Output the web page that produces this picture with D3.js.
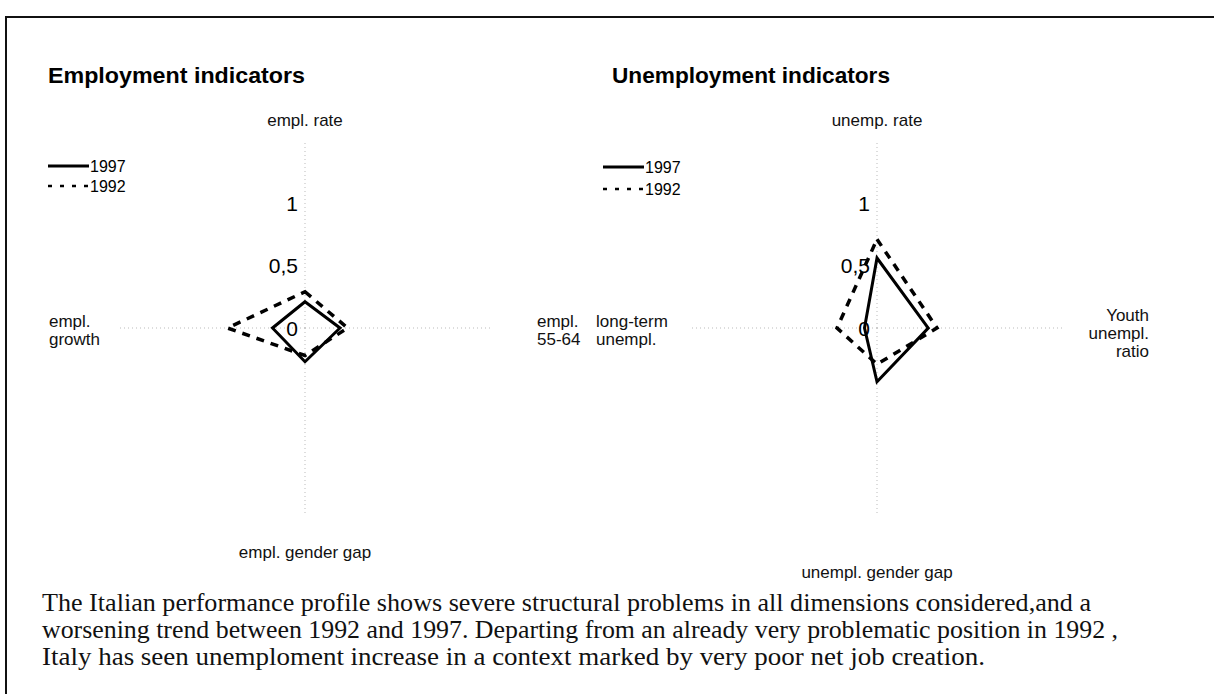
<!DOCTYPE html>
<html>
<head>
<meta charset="utf-8">
<script src="https://cdn.jsdelivr.net/npm/d3@7"></script>
<style>
  html, body { margin: 0; padding: 0; background: #fff; }
  svg { display: block; }
</style>
</head>
<body>
<svg id="chart" width="1214" height="694"></svg>
<script>
(function () {
  'use strict';

  // ---- data ----
  var empCategories = ['empl. rate', 'empl.\n55-64', 'empl. gender gap', 'empl.\ngrowth'];
  var emp1997 = [0.21, 0.28, 0.27, 0.26];
  var emp1992 = [0.29, 0.34, 0.22, 0.62];

  var unempCategories = ['unemp. rate', 'Youth\nunempl.\nratio', 'unempl. gender gap', 'long-term\nunempl.'];
  var unemp1997 = [0.56, 0.41, 0.43, 0.10];
  var unemp1992 = [0.71, 0.48, 0.29, 0.32];

  var seriesNames = ['1997', '1992'];
  var tickValues = [0, 0.5, 1];
  var tickLabels = ['0', '0,5', '1'];

  var paragraph = [
    'The Italian performance profile shows severe structural problems in all dimensions considered,and a',
    'worsening trend between 1992 and 1997. Departing from an already very problematic position in 1992 ,',
    'Italy has seen unemploment increase in a context marked by very poor net job creation.'
  ];

  var svg = d3.select('#chart');
  var sans = 'Arial, "Liberation Sans", Helvetica, sans-serif';
  var serif = '"Times New Roman", "Liberation Serif", serif';

  // frame (top + left rule of the scanned box)
  svg.append('line').attr('x1', 5).attr('y1', 17).attr('x2', 1214).attr('y2', 17)
    .attr('stroke', '#111').attr('stroke-width', 2);
  svg.append('line').attr('x1', 6).attr('y1', 17).attr('x2', 6).attr('y2', 694)
    .attr('stroke', '#111').attr('stroke-width', 2);

  var r = d3.scaleLinear().domain([0, 1.5]).range([0, 187.5]);
  var dash = '8,7';

  function radar(opt) {
    var g = svg.append('g').attr('transform', 'translate(' + opt.cx + ',' + opt.cy + ')');
    var n = opt.categories.length;
    var angle = function (i) { return i * 2 * Math.PI / n; };

    // spokes
    opt.categories.forEach(function (c, i) {
      var a = angle(i);
      g.append('line')
        .attr('x1', 0).attr('y1', 0)
        .attr('x2', r(1.5) * Math.sin(a)).attr('y2', -r(1.5) * Math.cos(a))
        .attr('stroke', '#bbb').attr('stroke-width', 1)
        .attr('stroke-dasharray', '1,3');
    });

    // tick labels on the first spoke
    tickValues.forEach(function (v, i) {
      g.append('text')
        .attr('x', -7).attr('y', -r(v))
        .attr('dy', '0.36em')
        .attr('text-anchor', 'end')
        .style('font-family', sans).style('font-size', '21px')
        .text(tickLabels[i]);
    });

    var line = d3.lineRadial()
      .angle(function (d, i) { return angle(i); })
      .radius(function (d) { return r(d); })
      .curve(d3.curveLinearClosed);

    g.append('path').attr('d', line(opt.s1992))
      .attr('fill', 'none').attr('stroke', '#000').attr('stroke-width', 3.5)
      .attr('stroke-dasharray', dash);
    g.append('path').attr('d', line(opt.s1997))
      .attr('fill', 'none').attr('stroke', '#000').attr('stroke-width', 3);

    // category labels
    opt.categories.forEach(function (c, i) {
      var p = opt.labelPos[i];
      var t = svg.append('text')
        .attr('x', p.x).attr('y', p.y)
        .attr('text-anchor', p.anchor)
        .style('font-family', sans).style('font-size', '17px').style('fill', '#111');
      c.split('\n').forEach(function (s, k) {
        t.append('tspan').attr('x', p.x).attr('dy', k === 0 ? 0 : 18).text(s);
      });
    });

    // title
    svg.append('text').attr('x', opt.titleX).attr('y', 83)
      .attr('textLength', opt.titleW).attr('lengthAdjust', 'spacingAndGlyphs')
      .style('font-family', sans).style('font-size', '22px').style('font-weight', 'bold')
      .text(opt.title);

    // legend
    var lg = svg.append('g').attr('transform', 'translate(' + opt.legend.x + ',' + opt.legend.y + ')');
    seriesNames.forEach(function (name, i) {
      var y = i * opt.legend.step;
      lg.append('line').attr('x1', 0).attr('x2', 41).attr('y1', y).attr('y2', y)
        .attr('stroke', '#000').attr('stroke-width', i === 1 ? 2.5 : 3)
        .attr('stroke-dasharray', i === 1 ? '4,8' : null);
      lg.append('text').attr('x', 42).attr('y', y).attr('dy', '0.36em')
        .style('font-family', sans).style('font-size', '16px')
        .text(name);
    });
  }

  radar({
    cx: 305, cy: 328,
    title: 'Employment indicators', titleX: 48, titleW: 257,
    categories: empCategories, s1997: emp1997, s1992: emp1992,
    labelPos: [
      { x: 305, y: 126, anchor: 'middle' },
      { x: 537, y: 327, anchor: 'start' },
      { x: 305, y: 558, anchor: 'middle' },
      { x: 49, y: 327, anchor: 'start' }
    ],
    legend: { x: 48, y: 166, step: 20 }
  });

  radar({
    cx: 877, cy: 328,
    title: 'Unemployment indicators', titleX: 612, titleW: 278,
    categories: unempCategories, s1997: unemp1997, s1992: unemp1992,
    labelPos: [
      { x: 877, y: 126, anchor: 'middle' },
      { x: 1149, y: 321, anchor: 'end' },
      { x: 877, y: 578, anchor: 'middle' },
      { x: 596, y: 327, anchor: 'start' }
    ],
    legend: { x: 603, y: 167, step: 22 }
  });

  // caption, stretched to the widths of the scanned lines
  var captionW = [1049, 1076, 943];
  svg.append('g').selectAll('text').data(paragraph).join('text')
    .attr('x', 42)
    .attr('y', function (d, i) { return 611 + i * 27; })
    .attr('textLength', function (d, i) { return captionW[i]; })
    .attr('lengthAdjust', 'spacingAndGlyphs')
    .style('font-family', serif).style('font-size', '25px').style('fill', '#111')
    .text(function (d) { return d; });
})();
</script>
</body>
</html>
